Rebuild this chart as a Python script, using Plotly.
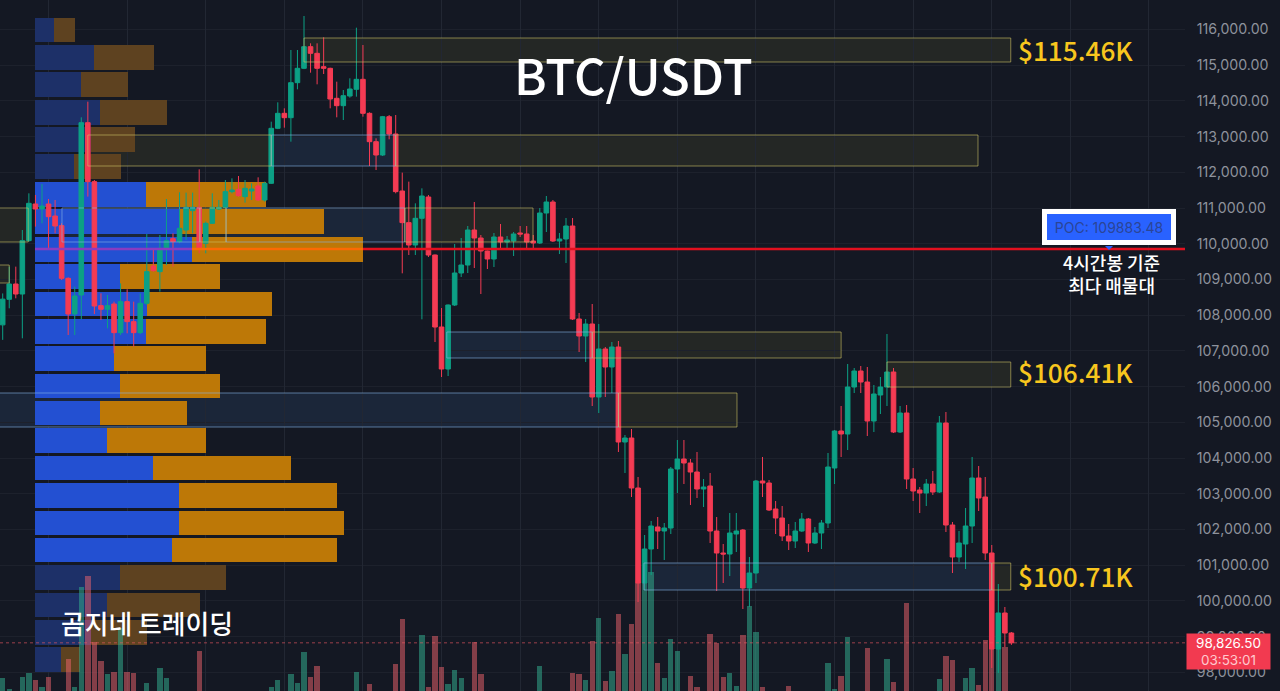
import plotly.graph_objects as go

# 4h candles
opens = [107730,108445,108874,108594,110088,111114,110974,111114,110778,110508,
         109033,108034,108566,113391,111740,108268,108165,108314,107512,108380,
         107820,107512,108333,109378,109220,109873,110144,110060,110386,110928,
         111021,110013,110573,110974,111021,111460,111525,111320,111478,111618,
         111226,111693,113233,113653,113531,114511,114913,115519,115333,114959,
         114913,114073,113867,114138,114325,114605,113653,112859,112486,113559,
         113074,111478,110592,109966,110713,111310,109686,107670,106494,108286,
         109182,109406,110386,110162,109798,109574,110190,110050,110078,110302,
         110274,110078,110022,110862,111170,110078,110134,110498,107894,107418,
         107754,105710,107054,106550,107110,104450,104562,103162,100502,101454,
         102070,101958,102042,103694,103974,103862,103610,103134,103218,101958,
         101342,101314,101874,101986,100362,100782,103358,103302,102574,102322,
         101818,101678,101958,102294,101622,101902,102182,103722,104758,104674,
         105990,106438,106130,105038,105766,105990,106410,104730,105262,103414,
         103106,103022,103274,103050,104982,102126,101230,101594,102098,103442,
         102910,101342,98654,99662,99102]
highs = [108610,109360,109360,110386,111413,111366,111674,111254,111226,110573,
         109060,108800,113541,113979,111786,108613,108566,108380,108893,108725,
         108380,108613,110274,109873,110246,111254,110293,111441,111432,111432,
         112085,110620,111413,111226,111786,111833,111898,111786,111693,111861,
         111740,113419,113961,113793,115426,115426,116378,115613,115613,115781,
         114930,114539,114306,114633,116051,115566,113680,112953,113580,113606,
         113606,111992,111740,111133,111553,111366,109700,108202,108300,109994,
         110162,110498,111170,110246,109810,110302,110554,110218,110330,110498,
         110498,110246,111002,111338,111226,110302,110722,110722,108062,107894,
         108314,107754,107110,107250,107278,104646,104814,103470,101846,102238,
         102350,102182,103750,104506,104506,103974,104170,103414,103582,102350,
         101594,102462,102462,102014,101230,103386,104030,103386,102798,102658,
         102154,102210,102462,102322,102070,102266,104142,104786,105458,106634,
         106522,106578,106550,106046,106270,107474,106522,105458,105486,103722,
         103190,103414,103638,105178,105290,102210,101958,102602,104030,103778,
         103470,101566,100474,99830,99130]
lows = [107310,108193,108473,107353,110060,110480,110573,109826,110293,108986,
        107446,107446,107885,111320,108034,107866,107633,106933,107446,107493,
        107120,107474,108286,109220,108660,109406,109360,110013,110106,110293,
        109733,109733,110554,110946,110993,111413,111320,111152,111226,111200,
        111180,111674,113210,113251,112859,114325,114890,114791,114465,114754,
        113793,113541,113466,114091,114119,113559,112178,112066,112458,112925,
        111413,109173,109686,109686,107885,109630,107250,106270,106298,108258,
        109070,109182,109322,108594,109294,109350,109882,109826,109658,110190,
        109854,109882,109994,110330,110050,109714,109462,107866,106970,106690,
        105458,105262,105710,105822,104170,103582,102910,99970,100306,100726,
        101454,101146,101874,103022,103274,102686,102882,102630,101622,100278,
        100502,100698,101370,99774,99830,100502,102910,102518,101874,101678,
        101426,101482,101930,101370,101594,101454,102042,103274,104030,104226,
        105822,105822,104618,104730,105234,105458,104702,104702,103134,102798,
        102462,102658,102966,103022,101930,100782,101090,100894,101622,102518,
        101146,98122,97982,98710,98770]
closes = [108450,108874,108594,110088,111133,110974,111058,110759,110498,109033,
          108034,108538,113391,111740,108258,108165,108268,107512,108380,107820,
          107512,108333,109220,109248,109873,110088,110060,110433,111021,111021,
          109873,110573,111021,111021,111460,111506,111348,111553,111534,111226,
          111693,113233,113653,113531,114511,114913,115519,115333,114913,114913,
          114054,113867,114147,114334,114605,113653,112859,112486,113559,113074,
          111460,110592,109966,110713,111338,109686,107670,106494,108286,109182,
          109406,110386,110162,109798,109574,110190,110050,110106,110274,110274,
          110050,110022,110862,111170,110078,110134,110498,107894,107418,107754,
          105710,107054,106550,107110,104450,104562,103162,100502,101454,102098,
          101958,102042,103694,103974,103862,103610,103134,103190,101958,101342,
          101314,101902,101958,100362,100782,103358,103302,102546,102322,101818,
          101678,101958,102294,101622,101902,102182,103750,104758,104674,105990,
          106438,106130,105038,105794,105990,106410,104730,105262,103414,103078,
          103022,103274,103050,104982,102126,101230,101622,102098,103442,102882,
          101342,98654,99662,99102,98826.5]
volumes = [13,2,0,14,18,11,4,14,0,0,
           32,4,104,115,49,30,17,19,63,19,
           18,0,8,0,23,13,0,0,0,0,
           40,0,0,0,0,0,0,0,0,0,
           0,4,11,0,17,8,39,14,25,0,
           0,0,0,0,19,0,7,0,0,0,
           27,72,0,0,56,4,55,24,7,21,
           13,0,49,17,0,0,0,0,0,0,
           0,0,25,0,0,0,0,18,17,11,
           50,73,10,20,77,37,67,108,108,119,
           28,13,52,40,0,15,4,0,57,48,
           14,18,5,56,85,59,4,0,0,0,
           5,0,0,0,0,0,28,2,15,54,
           0,0,43,0,0,32,9,0,88,0,
           0,0,0,12,35,31,0,13,23,6,
           51,50,42,44,0]
candle_idx = list(range(len(closes)))

# volume profile rows
row_price = [115986,115216,114460,113676,112920,112164,111380,110624,109840,109084,108314,107544,
             106788,106018,105262,104492,103722,102952,102182,101426,100656,99886,99116,98360]
row_buy = [19,59,46,65,56,39,111,144,157,85,112,111,79,85,65,72,118,144,144,137,85,72,56,26]
row_sell = [21,60,47,67,44,47,120,145,171,100,125,120,92,100,87,99,138,158,165,165,106,93,56,19]
row_active = [False]*6 + [True]*14 + [False]*4

# supply / demand zones: start, end (candle index), low, high, kind
zone_start = [46,13,41,60,-1,9.05,30.1,34.1,61.4,-1,67.8,90,-1,94,135,97.9,151]
zone_end = [153.9,41,60,148.9,3.9,30.1,34.1,61.4,80.96,1,90,128,94,112.1,153.9,151,153.9]
zone_low = [115090,112178,112178,112178,110050,110050,110050,110050,110050,108902,106802,106802,
            104870,104870,105990,100306,100306]
zone_high = [115762,113046,113046,113046,111002,111002,111002,111002,111002,109406,107530,107530,
             105822,105822,106690,101062,101062]
zone_kind = ['y','y','b','y','y','b','y','b','y','y','b','y','b','y','y','b','y']

level_labels = ['$115.46K','$106.41K','$100.71K']
level_y = [115420,106410,100710]
poc_level = 109855
last_price = 98826.5

bg = '#141823'
green = '#0ca085'
red = '#f43b53'
W, H = 1280, 691
plot_w = 1185
idx_range = [-0.41, 180.5]

fig = go.Figure()

# profile sits at the back, on its own x axis
fig.add_trace(go.Bar(y=row_price, x=row_buy, orientation='h', width=692, xaxis='x', yaxis='y',
                     marker=dict(color=['#2350d2' if a else '#1d3068' for a in row_active], line_width=0)))
fig.add_trace(go.Bar(y=row_price, x=row_sell, orientation='h', width=692, xaxis='x', yaxis='y',
                     marker=dict(color=['#bd7807' if a else '#5e4220' for a in row_active], line_width=0)))

vol_colors = ['rgba(242,100,110,0.5)' if c < o else 'rgba(50,170,140,0.55)' for o, c in zip(opens, closes)]
fig.add_trace(go.Bar(x=candle_idx, y=volumes, width=0.82, xaxis='x2', yaxis='y2',
                     marker=dict(color=vol_colors, line_width=0)))

fig.add_trace(go.Candlestick(x=candle_idx, open=opens, high=highs, low=lows, close=closes,
                             xaxis='x3', yaxis='y', whiskerwidth=0,
                             increasing=dict(line=dict(color=green, width=1), fillcolor=green),
                             decreasing=dict(line=dict(color=red, width=1), fillcolor=red)))

for s, e, lo, hi, k in zip(zone_start, zone_end, zone_low, zone_high, zone_kind):
    if k == 'y':
        line_c, fill_c = 'rgba(205,195,100,0.6)', 'rgba(160,150,60,0.12)'
    else:
        line_c, fill_c = 'rgba(135,180,230,0.6)', 'rgba(70,125,190,0.14)'
    # fill goes under the bars and candles, outline over them
    fig.add_shape(type='rect', xref='x3', yref='y', x0=s, x1=e, y0=lo, y1=hi,
                  line_width=0, fillcolor=fill_c, layer='below')
    fig.add_shape(type='rect', xref='x3', yref='y', x0=s, x1=e, y0=lo, y1=hi,
                  line=dict(color=line_c, width=1), fillcolor='rgba(0,0,0,0)', layer='above')

# POC line takes the colour of whatever is under it
fig.add_shape(type='line', xref='x', yref='y', x0=0, x1=157, y0=poc_level, y1=poc_level,
              line=dict(color='#8a3cc0', width=2.5), layer='above')
fig.add_shape(type='line', xref='x', yref='y', x0=157, x1=328, y0=poc_level, y1=poc_level,
              line=dict(color='#fb6a05', width=2.5), layer='above')
fig.add_shape(type='line', xref='x', yref='y', x0=328, x1=1152, y0=poc_level, y1=poc_level,
              line=dict(color='#e2101f', width=2.5), layer='above')
fig.add_shape(type='line', xref='paper', yref='y', x0=0, x1=1, y0=last_price, y1=last_price,
              line=dict(color='rgba(244,90,100,0.6)', width=1, dash='dot'), layer='above')

kr = '"Noto Sans CJK KR"'

def px_x(x):
    return x / plot_w

def px_y(y):
    return 1 - y / H

# little notch under the POC tag
fig.add_shape(type='path', xref='paper', yref='paper', line_width=0, fillcolor='#2962ff', layer='above',
              path=f'M {px_x(1105)} {px_y(246)} L {px_x(1113)} {px_y(246)} L {px_x(1109)} {px_y(250)} Z')

fig.add_annotation(text='BTC/USDT', xref='paper', yref='paper', x=px_x(633), y=px_y(74), showarrow=False,
                   xanchor='center', yanchor='middle', font=dict(family=kr, size=49, color='white', weight=500))
for lab, lev in zip(level_labels, level_y):
    fig.add_annotation(text=lab, xref='paper', yref='y', x=px_x(1016), y=lev, xanchor='left', yanchor='middle',
                       showarrow=False, font=dict(family=kr, size=26.2, color='#f8c61e', weight=500))
fig.add_annotation(text='POC: 109883.48', xref='paper', yref='paper', x=px_x(1108.5), y=px_y(227), showarrow=False,
                   xanchor='center', yanchor='middle', width=124, height=26, bgcolor='#2962ff', bordercolor='white',
                   borderwidth=5, borderpad=0, font=dict(family='Inter', size=14, color='#2b4596'))
fig.add_annotation(text='4시간봉 기준<br>최다 매물대', xref='paper', yref='paper', x=px_x(1111), y=px_y(274),
                   showarrow=False, xanchor='center', yanchor='middle', align='center',
                   font=dict(family=kr, size=18, color='white', weight=500))
fig.add_annotation(text='곰지네 트레이딩', xref='paper', yref='paper', x=px_x(59), y=px_y(622), xanchor='left',
                   yanchor='middle', showarrow=False, font=dict(family=kr, size=25.8, color='white', weight=500))
fig.add_annotation(text='98,826.50<br><span style="color:#ffc9ce">03:53:01</span>', xref='paper', yref='paper',
                   x=px_x(1228.5), y=px_y(651.5), showarrow=False, xanchor='center', yanchor='middle', width=83,
                   height=35, bgcolor='#f23a50', borderpad=0, align='center',
                   font=dict(family='Inter', size=13.5, color='white'))

fig.update_layout(
    width=W, height=H, margin=dict(l=0, r=W - plot_w, t=0, b=0),
    paper_bgcolor=bg, plot_bgcolor=bg, showlegend=False, barmode='stack', boxgap=0.3, boxgroupgap=0,
    hovermode=False,
    xaxis=dict(range=[-35, plot_w - 35], visible=False, domain=[0, 1]),
    xaxis2=dict(range=idx_range, visible=False, overlaying='x', anchor='y2'),
    xaxis3=dict(range=idx_range, overlaying='x', anchor='y', rangeslider=dict(visible=False),
                showticklabels=False, ticks='', showgrid=True, gridcolor='#222733', gridwidth=1,
                tick0=7, dtick=12, zeroline=False, showline=False),
    yaxis=dict(range=[116826 - 28 * H, 116826], side='right', anchor='x', tick0=98000, dtick=1000,
               tickformat=',.2f', showgrid=True, gridcolor='#1d212c', gridwidth=1, zeroline=False,
               showline=False, ticks='outside', ticklen=8, tickcolor=bg,
               tickfont=dict(family='Inter', size=14.2, color='#8e929c')),
    yaxis2=dict(range=[0, H], visible=False, overlaying='y', anchor='x2'),
)

fig.write_html("out.html", config={'displayModeBar': False},
               post_script="document.body.style.margin='0';document.body.style.background='" + bg + "';")
